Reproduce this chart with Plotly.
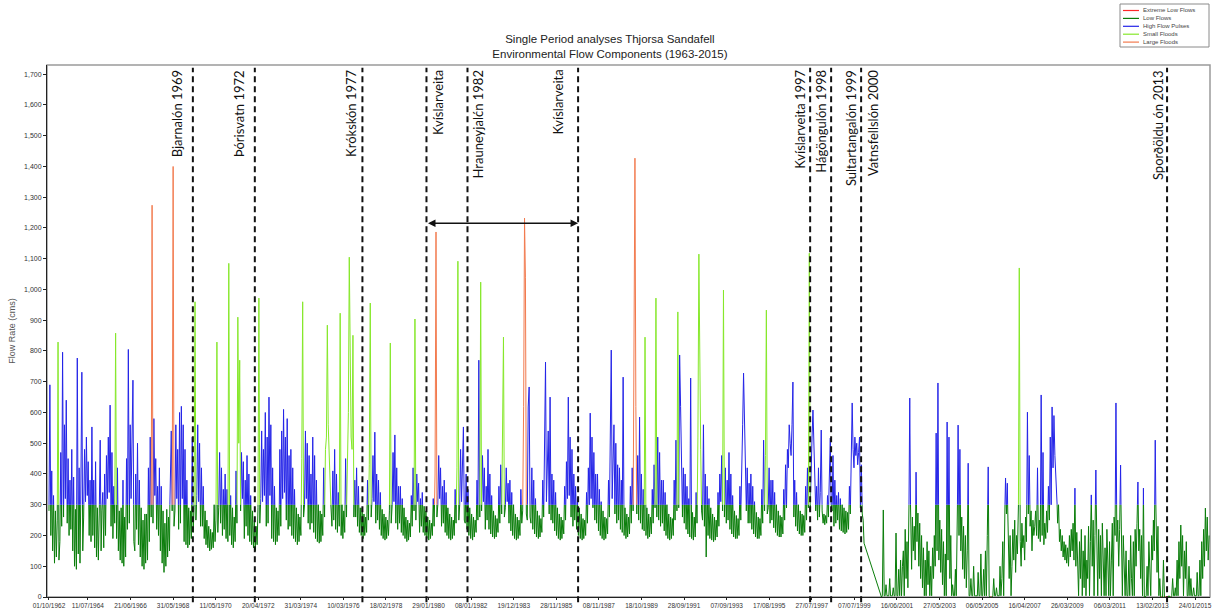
import numpy as np
import pandas as pd
import plotly.graph_objects as go

# ---------------- DATA (semi-monthly flows, cms; one list per water year Oct..Sep) ----------------
q_wy1963 = [280, 690, 200, 410, 150, 330, 110, 280, 130, 250, 829, 120, 180, 470, 230, 796, 260, 560, 320, 640, 240, 450, 200, 380]
q_wy1964 = [220, 480, 150, 390, 100, 285, 90, 777, 140, 420, 110, 350, 731, 150, 260, 480, 310, 520, 330, 440, 200, 380, 180, 553]
q_wy1965 = [200, 380, 160, 440, 130, 290, 120, 270, 510, 150, 280, 340, 160, 400, 200, 460, 320, 520, 340, 624, 230, 470, 190, 360]
q_wy1966 = [240, 858, 190, 420, 150, 280, 120, 290, 110, 380, 100, 260, 130, 450, 220, 805, 240, 560, 320, 480, 705, 180, 150, 400]
q_wy1967 = [220, 500, 170, 380, 130, 290, 100, 250, 90, 270, 110, 270, 120, 420, 180, 520, 260, 1274, 240, 580, 330, 450, 220, 360]
q_wy1968 = [200, 420, 150, 360, 110, 280, 80, 240, 100, 285, 130, 260, 150, 470, 540, 280, 1400, 230, 280, 560, 320, 480, 220, 600]
q_wy1969 = [240, 620, 320, 560, 180, 480, 170, 380, 160, 290, 170, 280, 190, 520, 210, 290, 960, 250, 330, 560, 310, 500, 230, 420]
q_wy1970 = [230, 360, 190, 280, 170, 250, 160, 230, 150, 220, 155, 210, 160, 300, 180, 250, 829, 210, 290, 470, 240, 420, 200, 350]
q_wy1971 = [220, 400, 190, 350, 180, 1085, 200, 330, 170, 290, 160, 260, 180, 410, 240, 910, 500, 770, 280, 470, 320, 440, 190, 380]
q_wy1972 = [230, 460, 200, 400, 180, 330, 170, 280, 160, 250, 150, 230, 170, 290, 972, 240, 320, 540, 310, 480, 330, 600, 230, 520]
q_wy1973 = [240, 650, 330, 560, 190, 420, 180, 360, 170, 290, 180, 280, 200, 480, 230, 540, 320, 610, 340, 520, 250, 580, 220, 460]
q_wy1974 = [230, 480, 200, 420, 190, 350, 180, 290, 170, 270, 180, 260, 200, 450, 960, 260, 300, 540, 320, 500, 240, 460, 220, 400]
q_wy1975 = [240, 520, 210, 460, 190, 380, 180, 300, 175, 280, 180, 270, 200, 420, 260, 480, 520, 884, 560, 470, 430, 280, 230, 410]
q_wy1976 = [250, 480, 220, 400, 210, 340, 230, 923, 200, 300, 190, 280, 210, 450, 260, 520, 600, 1105, 640, 520, 480, 851, 260, 380]
q_wy1977 = [260, 420, 230, 360, 210, 290, 200, 290, 190, 270, 200, 260, 210, 380, 250, 430, 956, 260, 320, 460, 310, 536, 240, 400]
q_wy1978 = [250, 380, 220, 340, 200, 285, 190, 270, 185, 260, 190, 250, 200, 280, 826, 240, 300, 470, 310, 527, 240, 420, 220, 360]
q_wy1979 = [240, 360, 210, 320, 200, 290, 190, 260, 180, 250, 185, 240, 195, 330, 230, 420, 280, 904, 250, 400, 310, 370, 210, 320]
q_wy1980 = [230, 340, 210, 295, 200, 280, 190, 260, 185, 250, 190, 240, 200, 320, 230, 400, 1187, 260, 300, 460, 320, 420, 230, 360]
q_wy1981 = [240, 380, 210, 340, 200, 290, 190, 270, 185, 260, 190, 250, 200, 350, 240, 420, 1092, 250, 300, 480, 310, 420, 553, 250]
q_wy1982 = [240, 400, 220, 350, 200, 290, 190, 270, 185, 260, 195, 250, 210, 380, 250, 770, 260, 1024, 280, 460, 310, 420, 220, 360]
q_wy1983 = [250, 480, 220, 400, 205, 330, 195, 280, 190, 265, 195, 255, 210, 360, 240, 430, 270, 480, 845, 260, 290, 420, 310, 370]
q_wy1984 = [240, 380, 215, 340, 200, 300, 190, 270, 185, 260, 190, 250, 200, 350, 240, 280, 620, 1232, 1040, 270, 250, 618, 683, 260]
q_wy1985 = [240, 420, 220, 380, 205, 320, 195, 280, 190, 265, 195, 255, 210, 380, 260, 480, 764, 310, 420, 540, 270, 650, 250, 400]
q_wy1986 = [240, 380, 215, 340, 200, 290, 190, 270, 185, 260, 190, 250, 205, 360, 250, 440, 320, 650, 330, 520, 260, 480, 230, 400]
q_wy1987 = [250, 360, 220, 320, 200, 290, 190, 270, 185, 255, 190, 250, 200, 340, 240, 420, 300, 598, 320, 520, 290, 470, 250, 400]
q_wy1988 = [240, 400, 215, 350, 200, 310, 190, 280, 185, 260, 190, 255, 205, 380, 260, 520, 803, 320, 450, 560, 270, 500, 240, 430]
q_wy1989 = [250, 420, 220, 380, 210, 715, 200, 290, 190, 270, 195, 260, 205, 360, 240, 420, 280, 890, 1427, 620, 270, 460, 250, 585]
q_wy1990 = [240, 400, 220, 350, 215, 845, 200, 290, 190, 270, 195, 260, 205, 350, 240, 430, 290, 972, 260, 520, 250, 470, 230, 380]
q_wy1991 = [240, 380, 215, 340, 200, 300, 190, 270, 185, 260, 190, 255, 200, 380, 250, 510, 280, 927, 290, 787, 620, 500, 260, 420]
q_wy1992 = [240, 400, 220, 360, 205, 320, 195, 712, 190, 275, 185, 260, 195, 340, 240, 520, 1115, 620, 480, 280, 250, 560, 230, 400]
q_wy1993 = [130, 360, 200, 320, 190, 290, 185, 270, 180, 260, 185, 250, 195, 340, 230, 400, 310, 460, 280, 998, 260, 420, 240, 380]
q_wy1994 = [250, 470, 220, 400, 205, 330, 195, 280, 190, 265, 190, 255, 200, 360, 250, 480, 560, 728, 600, 460, 280, 420, 240, 370]
q_wy1995 = [240, 400, 220, 360, 205, 310, 195, 275, 190, 260, 190, 255, 200, 350, 240, 510, 280, 460, 933, 270, 290, 420, 240, 380]
q_wy1996 = [250, 380, 225, 340, 210, 300, 200, 280, 195, 265, 195, 260, 205, 350, 250, 430, 290, 480, 420, 560, 500, 460, 560, 699]
q_wy1997 = [260, 380, 230, 340, 215, 300, 205, 280, 200, 270, 200, 265, 210, 360, 250, 420, 290, 1118, 280, 440, 520, 608, 480, 420]
q_wy1998 = [280, 360, 250, 420, 260, 340, 543, 280, 240, 270, 235, 265, 240, 330, 260, 420, 517, 300, 280, 460, 230, 380, 240, 330]
q_wy1999 = [250, 340, 220, 320, 215, 300, 210, 290, 205, 280, 210, 275, 220, 360, 270, 450, 631, 480, 420, 520, 460, 500, 430, 470]
q_wy2000 = [520, 290, 430, 270, 250, 175, None, None, None, None, None, None, None, None, None, None, None, None, None, None, None, None, None, None]
q_wy2001 = [0, 4, 283, 4, 4, 40, 4, 4, 4, 60, 4, 4, 4, 30, 4, 4, 208, 4, 4, 90, 4, 120, 4, 100]
q_wy2002 = [150, 4, 220, 60, 180, 30, 240, 647, 200, 90, 260, 150, 230, 120, 406, 180, 273, 100, 240, 60, 200, 30, 160, 4]
q_wy2003 = [120, 4, 180, 40, 150, 4, 100, 4, 160, 60, 200, 100, 533, 150, 696, 120, 250, 80, 220, 40, 180, 4, 140, 4]
q_wy2004 = [569, 120, 520, 60, 200, 4, 40, 4, 4, 90, 4, 180, 559, 200, 480, 150, 260, 90, 230, 60, 200, 30, 150, 435]
q_wy2005 = [4, 4, 60, 4, 4, 100, 4, 4, 4, 4, 80, 4, 4, 140, 4, 4, 90, 4, 150, 4, 200, 423, 4, 0]
q_wy2006 = [0, 0, 4, 60, 4, 4, 30, 4, 4, 4, 100, 4, 60, 180, 4, 240, 387, 270, 370, 150, 60, 200, 4, 100]
q_wy2007 = [220, 120, 250, 80, 200, 140, 230, 1070, 180, 100, 240, 160, 200, 120, 260, 180, 601, 270, 460, 230, 280, 150, 250, 200]
q_wy2008 = [230, 280, 200, 420, 190, 250, 180, 657, 200, 470, 170, 240, 190, 280, 210, 360, 250, 520, 300, 618, 420, 590, 460, 380]
q_wy2009 = [350, 240, 300, 180, 220, 150, 200, 130, 180, 120, 170, 110, 160, 100, 200, 130, 220, 150, 240, 120, 354, 100, 210, 60]
q_wy2010 = [4, 180, 60, 220, 4, 150, 30, 200, 4, 120, 60, 230, 4, 180, 332, 100, 250, 4, 200, 413, 150, 4, 220, 60]
q_wy2011 = [200, 4, 240, 100, 4, 160, 4, 220, 60, 4, 180, 4, 120, 240, 4, 260, 200, 631, 180, 250, 100, 220, 429, 150]
q_wy2012 = [4, 200, 60, 4, 150, 4, 4, 120, 4, 200, 60, 4, 180, 4, 220, 100, 240, 374, 150, 220, 60, 200, 4, 354]
q_wy2013 = [0, 0, 4, 100, 4, 180, 60, 4, 200, 120, 250, 150, 510, 200, 80, 230, 4, 60, 0, 0, 0, 120, 0, 0]
q_wy2014 = [0, 0, 0, 4, 0, 0, 4, 60, 4, 4, 30, 4, 120, 4, 180, 60, 234, 100, 200, 4, 150, 60, 180, 4]
q_wy2015 = [4, 100, 4, 60, 4, 4, 30, 4, 4, 4, 80, 4, 4, 120, 4, 180, 60, 220, 100, 289, 150, 260, 120, 200]

water_years = list(range(1963, 2016))
flow_by_year = [q_wy1963, q_wy1964, q_wy1965, q_wy1966, q_wy1967, q_wy1968, q_wy1969, q_wy1970,
                q_wy1971, q_wy1972, q_wy1973, q_wy1974, q_wy1975, q_wy1976, q_wy1977, q_wy1978,
                q_wy1979, q_wy1980, q_wy1981, q_wy1982, q_wy1983, q_wy1984, q_wy1985, q_wy1986,
                q_wy1987, q_wy1988, q_wy1989, q_wy1990, q_wy1991, q_wy1992, q_wy1993, q_wy1994,
                q_wy1995, q_wy1996, q_wy1997, q_wy1998, q_wy1999, q_wy2000, q_wy2001, q_wy2002,
                q_wy2003, q_wy2004, q_wy2005, q_wy2006, q_wy2007, q_wy2008, q_wy2009, q_wy2010,
                q_wy2011, q_wy2012, q_wy2013, q_wy2014, q_wy2015]

# EFC thresholds (cms)
EXTREME_LOW_MAX = 1
HIGH_PULSE_MIN = 300
SMALL_FLOOD_MIN = 815
LARGE_FLOOD_MIN = 1150

components = ["Extreme Low Flows", "Low Flows", "High Flow Pulses", "Small Floods", "Large Floods"]

x_tick_labels = ["01/10/1962", "11/07/1964", "21/06/1966", "31/05/1968", "11/05/1970", "20/04/1972",
                 "31/03/1974", "10/03/1976", "18/02/1978", "29/01/1980", "08/01/1982", "19/12/1983",
                 "28/11/1985", "08/11/1987", "18/10/1989", "28/09/1991", "07/09/1993", "17/08/1995",
                 "27/07/1997", "07/07/1999", "16/06/2001", "27/05/2003", "06/05/2005", "16/04/2007",
                 "26/03/2009", "06/03/2011", "13/02/2013", "24/01/2015"]

event_line_dates = ["1969-04-26", "1972-02-23", "1977-01-21", "1979-12-25", "1981-11-08",
                    "1986-11-26", "1997-06-30", "1998-06-15", "1999-10-28", "2013-10-15"]
event_labels = ["Bjarnalón 1969", "Þórisvatn 1972", "Krókskón 1977", "Kvíslarveita", "Hrauneyjalćn 1982",
                "Kvíslarveita", "Kvíslarveita 1997", "Hágöngulón 1998", "Sultartangalón 1999",
                "Vatnsfellslón 2000", "Sporðöldu ón 2013"]
event_label_dates = ["1969-04-26", "1972-02-23", "1977-01-21", "1979-12-25", "1981-11-08",
                     "1986-11-26", "1997-06-30", "1998-06-15", "1999-10-28", "1999-10-28", "2013-10-15"]
period_arrow_start = "1979-12-25"
period_arrow_end = "1986-11-26"
period_arrow_level = 1215

# ---------------- STYLE ----------------
colors = {"Extreme Low Flows": "#FF2A2A", "Low Flows": "#0A7D0A", "High Flow Pulses": "#2424E8",
          "Small Floods": "#86E82A", "Large Floods": "#F27A4E"}
label_side = [-1, -1, -1, 1, 1, -1, -1, -1, -1, 1, -1]
label_offset = [15, 15, 11, 12, 11, 20, 10, 10, 10, 12, 9]
PL, PR, PT, PB = 47, 1210, 65, 597  # plot area in page pixels


def xp(px):
    return (px - PL) / (PR - PL)


def yp(py):
    return (PB - py) / (PB - PT)


# ---------------- BUILD SERIES ----------------
times, flows = [], []
for wy, vals in zip(water_years, flow_by_year):
    months = pd.date_range(f"{wy - 1}-10-01", periods=12, freq="MS")
    stamps = []
    for m in months:
        stamps.append(m)
        stamps.append(m + pd.Timedelta(days=15))
    for s, v in zip(stamps, vals):
        if v is not None:
            times.append(s.value)
            flows.append(float(v))

t = np.array(times, dtype=float)
q = np.array(flows, dtype=float)
n = len(q)
above = q > HIGH_PULSE_MIN

# classify each high-flow excursion by its peak
run_cat = [None] * n
i = 0
while i < n:
    if above[i]:
        j = i
        while j < n and above[j]:
            j += 1
        peak = q[i:j].max()
        if peak >= LARGE_FLOOD_MIN:
            c = "Large Floods"
        elif peak >= SMALL_FLOOD_MIN:
            c = "Small Floods"
        else:
            c = "High Flow Pulses"
        for k in range(i, j):
            run_cat[k] = c
        i = j
    else:
        i += 1

segs = []
for i in range(n - 1):
    a, b = q[i], q[i + 1]
    if not above[i] and not above[i + 1]:
        c = "Extreme Low Flows" if max(a, b) <= EXTREME_LOW_MAX else "Low Flows"
        segs.append((t[i], a, t[i + 1], b, c))
    elif above[i] and above[i + 1]:
        segs.append((t[i], a, t[i + 1], b, run_cat[i]))
    else:
        f = (HIGH_PULSE_MIN - a) / (b - a)
        tc = t[i] + f * (t[i + 1] - t[i])
        if above[i]:
            segs.append((t[i], a, tc, HIGH_PULSE_MIN, run_cat[i]))
            segs.append((tc, HIGH_PULSE_MIN, t[i + 1], b, "Low Flows"))
        else:
            segs.append((t[i], a, tc, HIGH_PULSE_MIN, "Low Flows"))
            segs.append((tc, HIGH_PULSE_MIN, t[i + 1], b, run_cat[i + 1]))

paths = {c: ([], []) for c in components}
prev = None
for (t0, q0, t1, q1, c) in segs:
    xs, ys = paths[c]
    if c != prev:
        if xs:
            xs.append(None)
            ys.append(None)
        xs.append(t0)
        ys.append(q0)
    xs.append(t1)
    ys.append(q1)
    prev = c


def to_dates(xs):
    return [None if v is None else pd.Timestamp(int(v)).strftime("%Y-%m-%d %H:%M") for v in xs]


fig = go.Figure()
for c in components:
    xs, ys = paths[c]
    fig.add_trace(go.Scatter(x=to_dates(xs), y=ys, mode="lines", name=c,
                             line=dict(color=colors[c], width=1), hoverinfo="skip"))

# frame
fig.add_shape(type="rect", xref="paper", yref="paper", x0=0, x1=1, y0=0, y1=1,
              line=dict(color="#9a9a9a", width=1.5), layer="below")

# event lines
for d in event_line_dates:
    fig.add_shape(type="line", xref="x", yref="paper", x0=d, x1=d, y0=-0.01, y1=0.995,
                  line=dict(color="#111111", width=2, dash="6px,4px"))

for txt, d, side, off in zip(event_labels, event_label_dates, label_side, label_offset):
    fig.add_annotation(x=d, y=yp(68), xref="x", yref="paper", text=txt, textangle=-90,
                       showarrow=False, xanchor="center", yanchor="top", xshift=side * off,
                       font=dict(family="Lato, Open Sans, sans-serif", size=13, color="#111111"))

fig.add_annotation(x=period_arrow_end, y=period_arrow_level, ax=period_arrow_start, ay=period_arrow_level,
                   xref="x", yref="y", axref="x", ayref="y", text="", showarrow=True,
                   arrowhead=2, startarrowhead=2, arrowside="end+start", arrowsize=1, startarrowsize=1,
                   arrowwidth=1.5, arrowcolor="#111111", standoff=0, startstandoff=0)

# compact legend (drawn in the top-right corner)
fig.add_shape(type="rect", xref="paper", yref="paper", x0=xp(1120), x1=xp(1209), y0=yp(47), y1=yp(4),
              line=dict(color="#8a8a8a", width=1), fillcolor="white")
for k, c in enumerate(components):
    ypx = 10.5 + k * 7.9
    fig.add_shape(type="line", xref="paper", yref="paper", x0=xp(1123), x1=xp(1139), y0=yp(ypx), y1=yp(ypx),
                  line=dict(color=colors[c], width=1.2))
    fig.add_annotation(x=xp(1141), y=yp(ypx), xref="paper", yref="paper", text=c, showarrow=False,
                       xanchor="left", yanchor="middle",
                       font=dict(family="Liberation Sans, Arial", size=6, color="#444444"))

tickvals = pd.to_datetime(x_tick_labels, format="%d/%m/%Y").strftime("%Y-%m-%d").tolist()

fig.update_layout(
    width=1215, height=609,
    margin=dict(l=PL, r=1215 - PR, t=PT, b=609 - PB),
    paper_bgcolor="white", plot_bgcolor="white", showlegend=False,
    font=dict(family="Liberation Sans, Arial, sans-serif"),
    title=dict(text="Single Period analyses Thjorsa Sandafell<br>Environmental Flow Components (1963-2015)",
               x=0.502, xref="container", xanchor="center", y=0.93, yref="container", yanchor="top",
               font=dict(family="Liberation Sans, Arial", size=11.5, color="#222222")),
)
fig.update_xaxes(type="date", range=["1962-08-29", "2015-10-01"], tickmode="array",
                 tickvals=tickvals, ticktext=x_tick_labels, tickangle=0,
                 tickfont=dict(size=6.5, color="#333333"), showgrid=False, zeroline=False,
                 showline=True, linecolor="#222222", linewidth=1, ticks="outside", ticklen=2,
                 tickcolor="#222222", automargin=False)
fig.update_yaxes(range=[0, 1730], tick0=0, dtick=100, tickformat=",",
                 tickfont=dict(size=7, color="#333333"), showgrid=False, zeroline=False,
                 showline=True, linecolor="#222222", linewidth=1, ticks="outside", ticklen=3,
                 tickcolor="#222222", automargin=False,
                 title=dict(text="Flow Rate (cms)", font=dict(size=9, color="#555555"), standoff=6))

fig.write_html("out.html", config={"displayModeBar": False},
               post_script="document.body.style.margin='0px';")
